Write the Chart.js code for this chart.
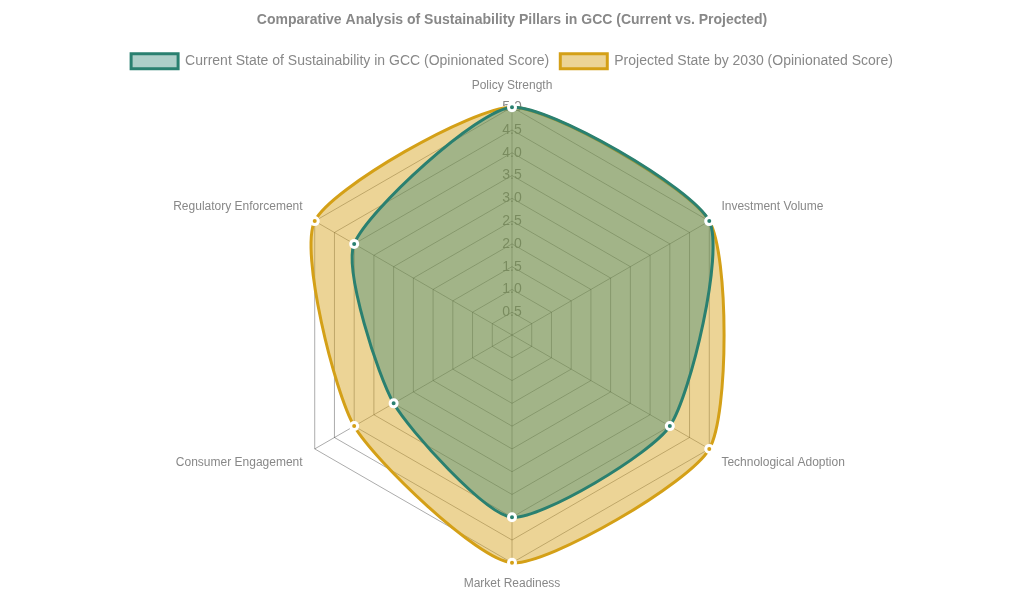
<!DOCTYPE html>
<html>
<head>
<meta charset="utf-8">
<script src="https://cdn.jsdelivr.net/npm/chart.js@4"></script>
<style>
  html, body { margin: 0; padding: 0; background: #fff; }
  #wrap { width: 1024px; height: 593px; }
</style>
</head>
<body>
<div id="wrap"><canvas id="radar-chart"></canvas></div>
<script>
// pillars and scores
var pillars = ["Policy Strength", "Investment Volume", "Technological Adoption",
               "Market Readiness", "Consumer Engagement", "Regulatory Enforcement"];
var currentScores = [5, 5, 4, 4, 3, 4];
var projectedScores = [5, 5, 5, 5, 4, 5];
var scoreMin = 0;
var scoreMax = 5;
var scoreStep = 0.5;

new Chart(document.getElementById("radar-chart"), {
    type: 'radar',
    data: {
        labels: pillars,
        datasets: [
            {
                label: "Current State of Sustainability in GCC (Opinionated Score)",
                data: currentScores,
                backgroundColor: "rgba(42, 128, 112, 0.38)",
                borderColor: "rgb(42, 128, 112)",
                pointBackgroundColor: "rgb(42, 128, 112)",
                pointBorderColor: "#fff",
                borderWidth: 3,
                pointRadius: 3.5,
                tension: 0.2,
                fill: true
            },
            {
                label: "Projected State by 2030 (Opinionated Score)",
                data: projectedScores,
                backgroundColor: "rgba(212, 160, 23, 0.45)",
                borderColor: "rgb(212, 160, 23)",
                pointBackgroundColor: "rgb(212, 160, 23)",
                pointBorderColor: "#fff",
                borderWidth: 3,
                pointRadius: 3.5,
                tension: 0.2,
                fill: true
            }
        ]
    },
    options: {
        responsive: true,
        maintainAspectRatio: false,
        animation: false,
        plugins: {
            title: {
                display: true,
                text: 'Comparative Analysis of Sustainability Pillars in GCC (Current vs. Projected)',
                color: '#888',
                font: { size: 14, weight: 'bold' },
                padding: { top: 12, bottom: 14 }
            },
            legend: {
                labels: {
                    color: '#888',
                    font: { size: 14 },
                    boxWidth: 47,
                    boxHeight: 15,
                    padding: 11
                }
            }
        },
        scales: {
            r: {
                min: scoreMin,
                max: scoreMax,
                ticks: {
                    stepSize: scoreStep,
                    color: '#888',
                    showLabelBackdrop: false,
                    font: { size: 14 },
                    callback: function (v) { return v.toFixed(1); }
                },
                grid: { color: 'rgba(0,0,0,0.33)' },
                angleLines: { color: 'rgba(0,0,0,0.33)' },
                pointLabels: { color: '#888', font: { size: 12 } }
            }
        }
    }
});
</script>
</body>
</html>
